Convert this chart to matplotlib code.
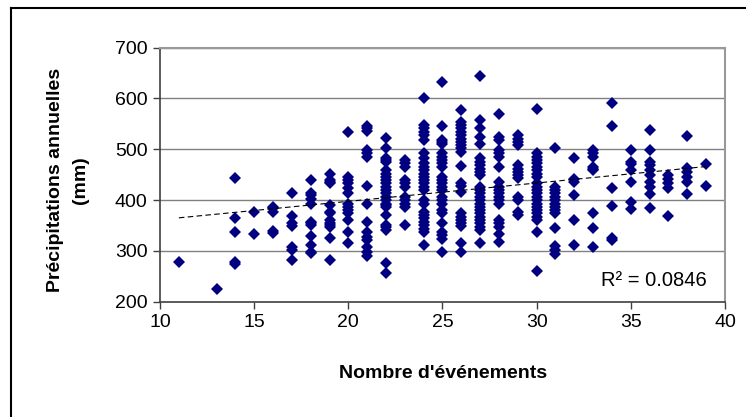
import numpy as np
import matplotlib.pyplot as plt
from matplotlib.lines import Line2D

plt.rcParams['font.family'] = ['Liberation Sans', 'DejaVu Sans']

# nombre d'événements par an (x) et précipitations annuelles en mm (y)
events = (
    [11] + [13]
    + [14] * 5 + [15] * 2 + [16] * 5 + [17] * 7 + [18] * 12 + [19] * 13
    + [20] * 13 + [21] * 15 + [22] * 24 + [23] * 11 + [24] * 27 + [25] * 25
    + [26] * 22 + [27] * 26 + [28] * 19 + [29] * 13 + [30] * 23 + [31] * 14
    + [32] * 6 + [33] * 9 + [34] * 6 + [35] * 7 + [36] * 10 + [37] * 5
    + [38] * 6 + [39] * 2
)
precip = [
    279,
    224,
    444, 364, 338, 279, 274,
    377, 333,
    387, 384, 376, 339, 336,
    413, 369, 354, 349, 308, 301, 282,
    440, 413, 410, 403, 393, 357, 354, 351, 330, 311, 295, 297,
    452, 440, 436, 433, 390, 377, 374, 361, 354, 351, 347, 326, 283,
    534, 446, 439, 433, 423, 413, 393, 387, 380, 374, 361, 338, 315,
    545, 541, 536, 498, 492, 485, 428, 393, 357, 338, 328, 321, 308, 298, 290,
    523, 503, 482, 478, 475, 459, 452, 446, 439, 433, 426, 420, 413, 406,
    400, 393, 390, 387, 370, 351, 347, 341, 277, 256,
    478, 472, 465, 439, 433, 426, 406, 400, 393, 387, 350,
    601, 547, 541, 534, 528, 518, 492, 482, 472, 465, 459, 452, 446, 439,
    433, 426, 420, 400, 393, 377, 370, 364, 357, 351, 344, 338, 312,
    633, 545, 518, 515, 511, 492, 485, 479, 472, 465, 446, 439, 433, 426,
    420, 406, 400, 393, 380, 374, 354, 338, 331, 324, 298,
    577, 554, 547, 541, 534, 528, 521, 515, 508, 502, 495, 467, 434, 427,
    416, 374, 367, 361, 354, 348, 315, 298,
    644, 558, 541, 524, 511, 482, 475, 469, 462, 456, 449, 426, 420, 413,
    406, 400, 393, 387, 380, 374, 367, 361, 354, 347, 341, 315,
    570, 524, 518, 498, 492, 485, 465, 436, 426, 420, 413, 406, 400, 393,
    361, 354, 347, 334, 318,
    528, 521, 515, 508, 469, 462, 456, 449, 443, 406, 400, 377, 370,
    580, 492, 485, 479, 472, 465, 459, 452, 446, 433, 426, 420, 413, 406,
    400, 393, 387, 380, 374, 367, 361, 338, 260,
    503, 426, 420, 413, 406, 400, 393, 387, 380, 374, 345, 309, 301, 294,
    482, 442, 436, 410, 361, 311,
    498, 492, 485, 465, 462, 459, 374, 345, 307,
    590, 545, 424, 388, 326, 322,
    498, 475, 471, 459, 436, 397, 382,
    537, 498, 475, 469, 459, 449, 436, 426, 412, 385,
    449, 441, 433, 423, 369,
    525, 464, 456, 446, 436, 412,
    471, 428,
]
x_ticks = [10, 15, 20, 25, 30, 35, 40]
y_ticks = [200, 300, 400, 500, 600, 700]
r2_label = 'R² = 0.0846'

events = np.array(events)
precip = np.array(precip)

fig = plt.figure(figsize=(7.46, 4.17), dpi=100)
ax = fig.add_axes([0.2145, 0.2765, 0.7573, 0.6095])

# grille horizontale grise
for v in y_ticks[1:]:
    ax.axhline(v, color='#808080', lw=1, zorder=1)

ax.plot(events, precip, 'D', color='#000080', ms=6.3, mew=0, zorder=3)

# droite de tendance linéaire
slope, icpt = np.polyfit(events, precip, 1)
xs = np.array([events.min(), events.max()])
ax.plot(xs, slope * xs + icpt, color='black', lw=0.8, dashes=(5, 3), zorder=4)

ax.text(0.968, 0.085, r2_label, transform=ax.transAxes, fontsize=14.5,
        ha='right', va='center')

ax.set_xlim(10, 40)
ax.set_ylim(200, 700)
ax.set_xticks(x_ticks)
ax.set_yticks(y_ticks)
ax.tick_params(labelsize=14, length=5, width=1, color='#404040', pad=4)
for side in ('left', 'bottom'):
    ax.spines[side].set_color('#404040')
    ax.spines[side].set_linewidth(1.2)
for side in ('top', 'right'):
    ax.spines[side].set_color('#999999')
    ax.spines[side].set_linewidth(1.5)

fig.text(443 / 746, 1 - 374 / 417, "Nombre d'événements", fontsize=14,
         fontweight='bold', ha='center', va='center')
fig.text(68 / 746, 1 - 180 / 417, 'Précipitations annuelles\n(mm)',
         fontsize=14, fontweight='bold', ha='center', va='center',
         rotation=90, linespacing=1.6)

# cadre extérieur du graphique
fig.add_artist(Line2D([11 / 746, 11 / 746], [0, 1 - 8 / 417], color='black', lw=1.5))
fig.add_artist(Line2D([11 / 746, 1], [1 - 8 / 417, 1 - 8 / 417], color='black', lw=1.5))

fig.savefig('out.png', dpi=100)
